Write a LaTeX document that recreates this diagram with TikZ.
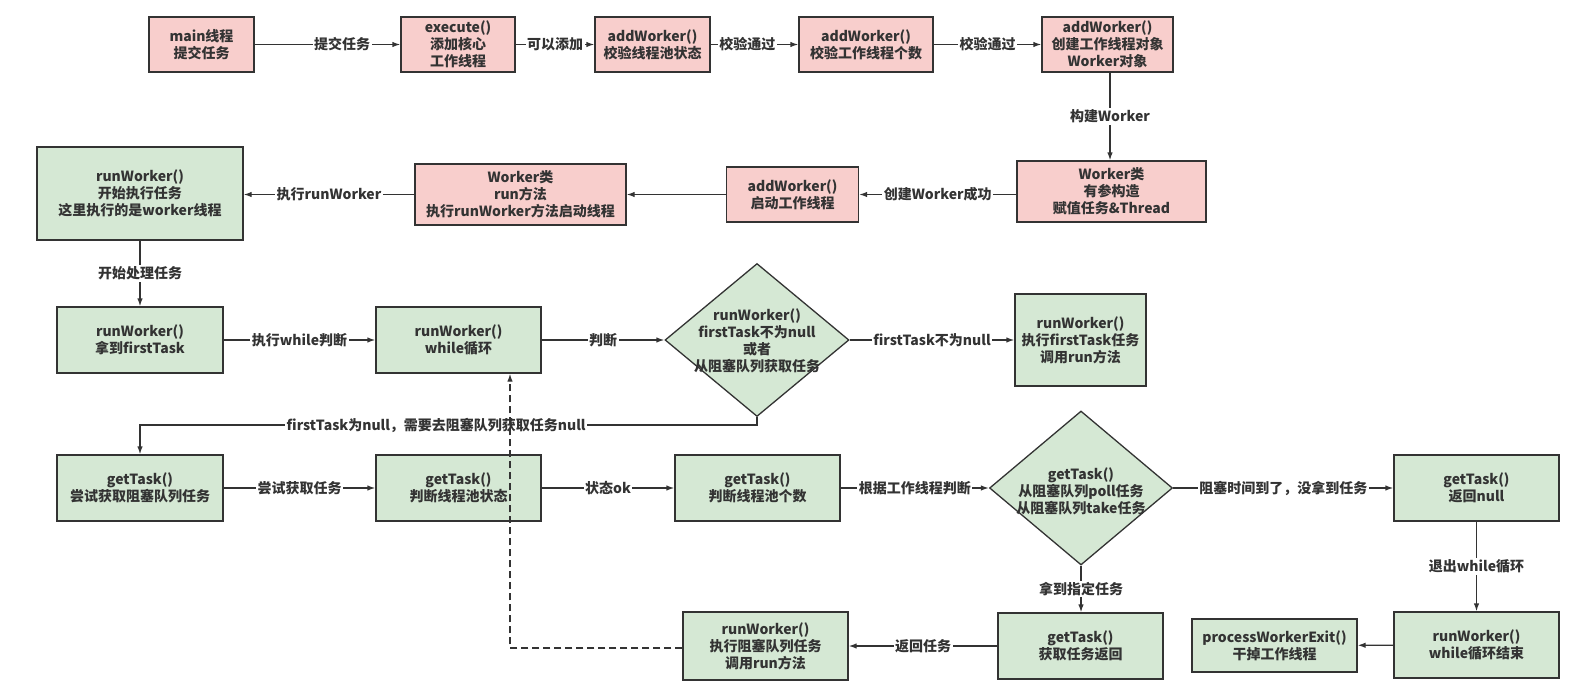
\documentclass[tikz,border=0pt]{standalone}
\usepackage{fontspec}
\setmainfont{Noto Sans CJK SC}
\usetikzlibrary{arrows.meta,shapes.geometric}
\definecolor{pinkf}{HTML}{F8CECC}
\definecolor{greenf}{HTML}{D5E8D4}
\definecolor{ink}{HTML}{333333}
\begin{document}
\begin{tikzpicture}[x=1pt,y=-1pt,
  txt/.style={align=center,font=\fontsize{14}{17}\selectfont\bfseries,text=ink},
  box/.style={txt,draw=ink,line width=1.3pt,inner sep=0pt},
  sz/.style 2 args={minimum width=#1pt,minimum height=#2pt},
  pk/.style={box,fill=pinkf},
  gr/.style={box,fill=greenf},
  dia/.style={diamond,draw=ink,line width=1.3pt,fill=greenf,inner sep=0pt,minimum width=184pt,minimum height=153pt},
  arr/.style={draw=ink,line width=1.3pt,-{Latex[length=8pt,width=5.5pt]}},
  lbl/.style={txt,fill=white,inner sep=1.5pt}]
\fill[white] (0,0) rectangle (1575,693);
\useasboundingbox (0,0) rectangle (1575,693);
% top row
\node[pk,sz={105}{55}] (main) at (201.5,44.5) {main线程\\提交任务};
\node[pk,sz={114}{55}] (exe) at (458,44.5) {execute()\\添加核心\\工作线程};
\node[pk,sz={115}{55}] (a1) at (652.5,44.5) {addWorker()\\校验线程池状态};
\node[pk,sz={134}{55}] (a2) at (866,44.5) {addWorker()\\校验工作线程个数};
\node[pk,sz={131}{55}] (a3) at (1107.5,44.5) {addWorker()\\创建工作线程对象\\Worker对象};
% second row
\node[pk,sz={189}{61}] (wk1) at (1111.5,191.5) {Worker类\\有参构造\\赋值任务\&Thread};
\node[pk,sz={132}{55}] (ad4) at (792.5,194.5) {addWorker()\\启动工作线程};
\node[pk,sz={211}{61}] (wk2) at (520.5,194.5) {Worker类\\run方法\\执行runWorker方法启动线程};
\node[gr,sz={206}{93}] (rw1) at (140,193.5) {runWorker()\\开始执行任务\\这里执行的是worker线程};
% third row
\node[gr,sz={166}{66}] (rw2) at (140,340) {runWorker()\\拿到firstTask};
\node[gr,sz={165}{66}] (rw3) at (458.5,340) {runWorker()\\while循环};
\node[dia] (d1) at (757,340) {};
\node[txt] (d1t) at (757,341) {runWorker()\\firstTask不为null\\或者\\从阻塞队列获取任务};
\node[gr,sz={131}{92}] (rw5) at (1080.5,340) {runWorker()\\执行firstTask任务\\调用run方法};
% fourth row
\node[gr,sz={166}{66}] (gt1) at (140,488) {getTask()\\尝试获取阻塞队列任务};
\node[gr,sz={165}{66}] (gt2) at (458.5,488) {getTask()\\判断线程池状态};
\node[gr,sz={165}{66}] (gt3) at (757.5,488) {getTask()\\判断线程池个数};
\node[dia,minimum width=183pt,minimum height=154pt] (d2) at (1081,488) {};
\node[txt] (d2t) at (1081,491) {getTask()\\从阻塞队列poll任务\\从阻塞队列take任务};
\node[gr,sz={165}{66}] (gn) at (1476.5,488) {getTask()\\返回null};
% bottom row
\node[gr,sz={165}{66}] (rw7) at (1476.5,645) {runWorker()\\while循环结束};
\node[gr,sz={165}{53}] (pe) at (1274.5,645.5) {processWorkerExit()\\干掉工作线程};
\node[gr,sz={165}{66}] (gt4) at (1080.5,646) {getTask()\\获取任务返回};
\node[gr,sz={165}{68}] (rw6) at (765.5,646) {runWorker()\\执行阻塞队列任务\\调用run方法};
% connectors
\draw[arr] (main) -- node[lbl,pos=0.6]{提交任务} (exe);
\draw[arr] (exe) -- node[lbl]{可以添加} (a1);
\draw[arr] (a1) -- node[lbl,pos=0.42]{校验通过} (a2);
\draw[arr] (a2) -- node[lbl]{校验通过} (a3);
\draw[arr] ([xshift=2.5pt]a3.south) -- node[lbl]{构建Worker} ([xshift=-1.5pt]wk1.north);
\draw[arr] (wk1.west |- ad4) -- node[lbl]{创建Worker成功} (ad4);
\draw[arr] (ad4) -- (wk2.east |- ad4);
\draw[arr] (wk2) -- node[lbl]{执行runWorker} (rw1.east |- wk2);
\draw[arr] (rw1) -- node[lbl]{开始处理任务} (rw2);
\draw[arr] (rw2) -- node[lbl]{执行while判断} (rw3);
\draw[arr] (rw3) -- node[lbl]{判断} (d1);
\draw[arr] (d1) -- node[lbl]{firstTask不为null} (rw5);
\coordinate (c1) at (757,425);
\draw[arr] (d1.south) -- (c1) -| node[lbl,pos=0.26]{firstTask为null，需要去阻塞队列获取任务null} (gt1.north);
\draw[arr] (gt1) -- node[lbl]{尝试获取任务} (gt2);
\draw[arr] (gt2) -- node[lbl]{状态ok} (gt3);
\draw[arr] (gt3) -- node[lbl]{根据工作线程判断} (d2);
\draw[arr] (d2) -- node[lbl]{阻塞时间到了，没拿到任务} (gn);
\draw[arr] (gn) -- node[lbl]{退出while循环} (rw7);
\draw[arr] (rw7) -- (pe);
\draw[arr] (d2.south) -- node[lbl]{拿到指定任务} (d2.south |- gt4.north);
\draw[arr] (gt4) -- node[lbl]{返回任务} (rw6);
\draw[arr,dashed,dash pattern=on 7pt off 4pt] ([yshift=-2pt]rw6.west) -| ([xshift=51.5pt]rw3.south);
\end{tikzpicture}
\end{document}
